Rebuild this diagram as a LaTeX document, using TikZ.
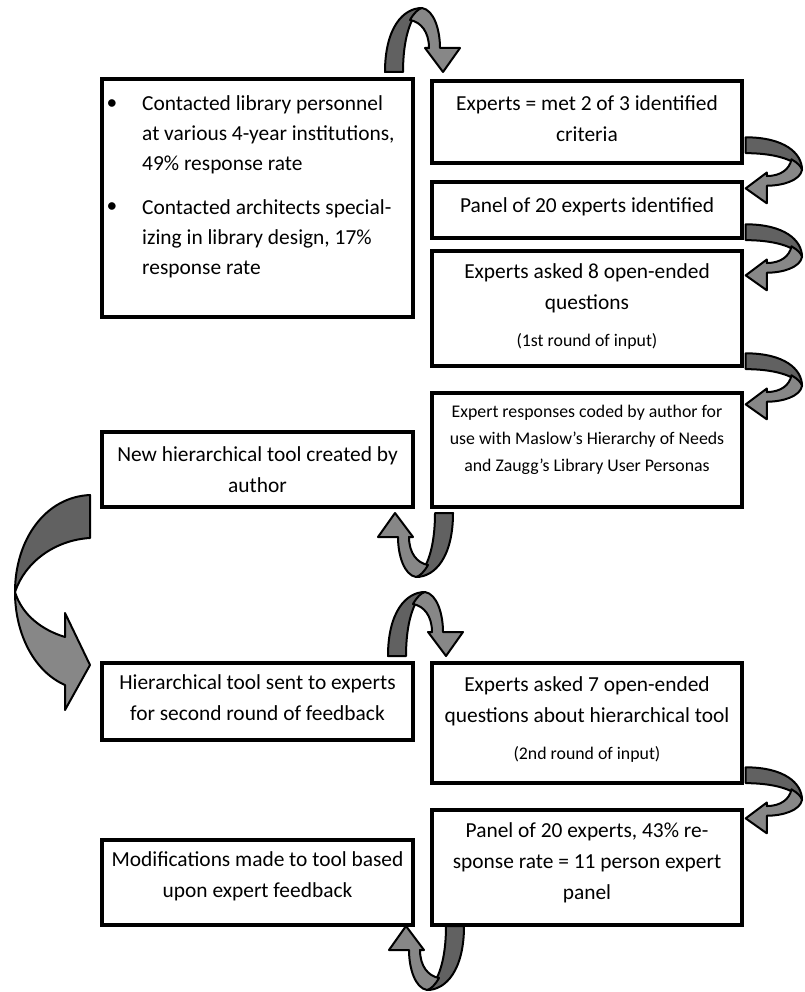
\documentclass[tikz,border=0pt]{standalone}
\usepackage{fontspec}
\setmainfont{Carlito}
\definecolor{arrdark}{gray}{0.38}
\definecolor{arrlight}{gray}{0.53}
\tikzset{
  box/.style={draw=black, line width=3.5pt, fill=white, inner sep=0pt, outer sep=0pt},
  txt/.style={align=center, inner sep=0pt, font=\fontsize{21.4}{31}\selectfont},
  smalltxt/.style={align=center, inner sep=0pt, font=\fontsize{17.8}{27}\selectfont},
  bultxt/.style={align=left, anchor=west, inner sep=0pt, font=\fontsize{21.4}{30}\selectfont},
  arrline/.style={draw=black, line width=2pt, line join=round},
  curvarr/.pic={
    \filldraw[arrline, fill=arrdark] (-36,64) .. controls (-36,20) and (-18,0) .. (1,0)
       .. controls (-11,8) and (-18,32) .. (-18,64) -- cycle;
    \filldraw[arrline, fill=arrlight] (1,0) .. controls (13,2) and (19,22) .. (19,40)
       -- (39,40) -- (22,64) -- (4,40) -- (8,40)
       .. controls (8,24) and (0,14) .. (-11,12)
       .. controls (-7,5) and (-3,1) .. (1,0) -- cycle;
  }
}
\begin{document}
\begin{tikzpicture}[x=1pt, y=-1pt]
\useasboundingbox (0,0) rectangle (804,992);

% boxes
\node[box, minimum width=311, minimum height=238] (L1) at (257.5,198) {};
\node[box, minimum width=310, minimum height=82] (R1) at (587,122) {};
\node[box, minimum width=310, minimum height=56] (R2) at (587,210) {};
\node[box, minimum width=310, minimum height=115] (R3) at (587,308.5) {};
\node[box, minimum width=310, minimum height=114] (R4) at (587,450) {};
\node[box, minimum width=311, minimum height=75] (NH) at (257.5,469.5) {};
\node[box, minimum width=311, minimum height=77] (HS) at (257.5,701.5) {};
\node[box, minimum width=310, minimum height=120] (R5) at (587,723) {};
\node[box, minimum width=310, minimum height=115] (R6) at (587,867.5) {};
\node[box, minimum width=311, minimum height=85] (MD) at (257.5,882.5) {};

% texts
\node[txt] (b1) at (112,105) {\textbullet};
\node[bultxt] (t1) at (142,135) {Contacted library personnel\\at various 4-year institutions,\\49\% response rate};
\node[txt] (b2) at (112,208) {\textbullet};
\node[bultxt] (t2) at (142,239) {Contacted architects special-\\izing in library design, 17\%\\response rate};

\node[txt] (r1t) at (587,118.5) {Experts = met 2 of 3 identified\\criteria};
\node[txt] (r2t) at (587,207) {Panel of 20 experts identified};
\node[txt] (r3t) at (587,307) {Experts asked 8 open-ended\\questions\\[6pt]{\fontsize{17.8}{27}\selectfont (1st round of input)}};
\node[smalltxt] (r4t) at (587,440) {Expert responses coded by author for\\use with Maslow’s Hierarchy of Needs\\and Zaugg’s Library User Personas};
\node[txt] (nht) at (257.5,470) {New hierarchical tool created by\\author};
\node[txt] (hst) at (257.5,698) {Hierarchical tool sent to experts\\for second round of feedback};
\node[txt] (r5t) at (587,719) {Experts asked 7 open-ended\\questions about hierarchical tool\\[6pt]{\fontsize{17.8}{27}\selectfont (2nd round of input)}};
\node[txt] (r6t) at (587,863) {Panel of 20 experts, 43\% re-\\sponse rate = 11 person expert\\panel};
\node[txt] (mdt) at (257.5,876) {Modifications made to tool based\\upon expert feedback};

% curved arrows
\pic (aTop) at (421,8) {curvarr};
\pic[rotate=-90, scale=0.88] (aA) at (802,169) {curvarr};
\pic[rotate=-90, scale=0.88] (aB) at (802,256) {curvarr};
\pic[rotate=-90, scale=0.88] (aC) at (802,385) {curvarr};
\pic[rotate=180] (aU1) at (417,577) {curvarr};
\pic (aN) at (424,592) {curvarr};
\pic[rotate=-90, scale=0.88] (aD) at (802,799) {curvarr};
\pic[rotate=180] (aU2) at (428,990) {curvarr};

% big left arrow
\filldraw[arrline, fill=arrdark] (90,495) .. controls (45,497) and (15,540) .. (15,592)
   .. controls (25,562) and (55,540) .. (90,538) -- cycle;
\filldraw[arrline, fill=arrlight] (15,592) .. controls (15,635) and (35,672) .. (65,685)
   -- (65,710) -- (90,665) -- (65,613) -- (65,637)
   .. controls (42,630) and (22,615) .. (15,592) -- cycle;
\end{tikzpicture}
\end{document}
